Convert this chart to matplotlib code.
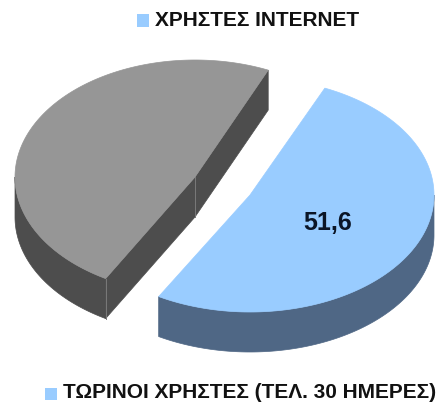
import numpy as np
from matplotlib import pyplot as plt
from matplotlib.patches import Rectangle

values = [51.6, 48.4]
value_label = '51,6'
legend_top = 'ΧΡΗΣΤΕΣ INTERNET'
legend_bottom = 'ΤΩΡΙΝΟΙ ΧΡΗΣΤΕΣ (ΤΕΛ. 30 ΗΜΕΡΕΣ)'

BLUE = '#99ccff'
BLUE_SIDE = '#4f6785'
GRAY = '#969696'
GRAY_SIDE = '#4d4d4d'
DEPTH = 40
START = 66

plt.rcParams['font.family'] = ['Liberation Sans', 'DejaVu Sans']


def rim(cx, cy, rx, ry, a0, a1, n=200):
    t = np.radians(np.linspace(a0, a1, n))
    return cx + rx * np.cos(t), cy - ry * np.sin(t)


def draw_wall(ax, cx, cy, rx, ry, a0, a1, side):
    # outer wall, only the part that faces the viewer (180..360 deg)
    lo, hi = min(a0, a1), max(a0, a1)
    for shift in (0, 360, -360):
        w0, w1 = max(lo + shift, 180), min(hi + shift, 360)
        if w1 > w0:
            x, y = rim(cx, cy, rx, ry, w0, w1)
            ax.fill(np.r_[x, x[::-1]], np.r_[y, y[::-1] + DEPTH], color=side, lw=0.5)


fig = plt.figure(figsize=(4.39, 4.04), dpi=100)
ax = fig.add_axes([0, 0, 1, 1])
ax.set_xlim(0, 439)
ax.set_ylim(404, 0)
ax.axis('off')

sweep = [v / sum(values) * 360 for v in values]
end = START - sweep[0]

# gray slice, goes counter clockwise from the top cut to the front tip
gx, gy, grx, gry = 195, 177, 180, 117
draw_wall(ax, gx, gy, grx, gry, START, START + sweep[1], GRAY_SIDE)
x, y = rim(gx, gy, grx, gry, START, START + sweep[1])
ax.fill([x[0], gx, x[-1], x[-1], gx, x[0]],
        [y[0], gy, y[-1], y[-1] + DEPTH, gy + DEPTH, y[0] + DEPTH], color=GRAY_SIDE, lw=0.5)
ax.fill(np.r_[gx, x], np.r_[gy, y], color=GRAY, lw=0.5)
ax.plot([gx, gx], [gy, gy + DEPTH], color='#7a7a7a', lw=0.7)
ax.plot([x[-1], x[-1]], [y[-1], y[-1] + DEPTH], color='#7a7a7a', lw=0.7)

# blue slice
bx, by, brx, bry = 250, 195, 184, 117
draw_wall(ax, bx, by, brx, bry, end, START, BLUE_SIDE)
x, y = rim(bx, by, brx, bry, end, START)
ax.fill(np.r_[bx, x], np.r_[by, y], color=BLUE, lw=0.5)
ax.text(328, 223, value_label, fontsize=18, fontweight='bold', color='#0b1526',
        ha='center', va='center')

# legends
ax.add_patch(Rectangle((137, 14), 12, 13, color=BLUE, lw=0))
ax.text(155, 20, legend_top, fontsize=15, fontweight='bold', color='#111111',
        ha='left', va='center')
ax.add_patch(Rectangle((45, 388), 12, 12, color=BLUE, lw=0))
ax.text(63, 392.5, legend_bottom, fontsize=15, fontweight='bold', color='#111111',
        ha='left', va='center')

fig.savefig('out.png', dpi=100)
plt.close(fig)
